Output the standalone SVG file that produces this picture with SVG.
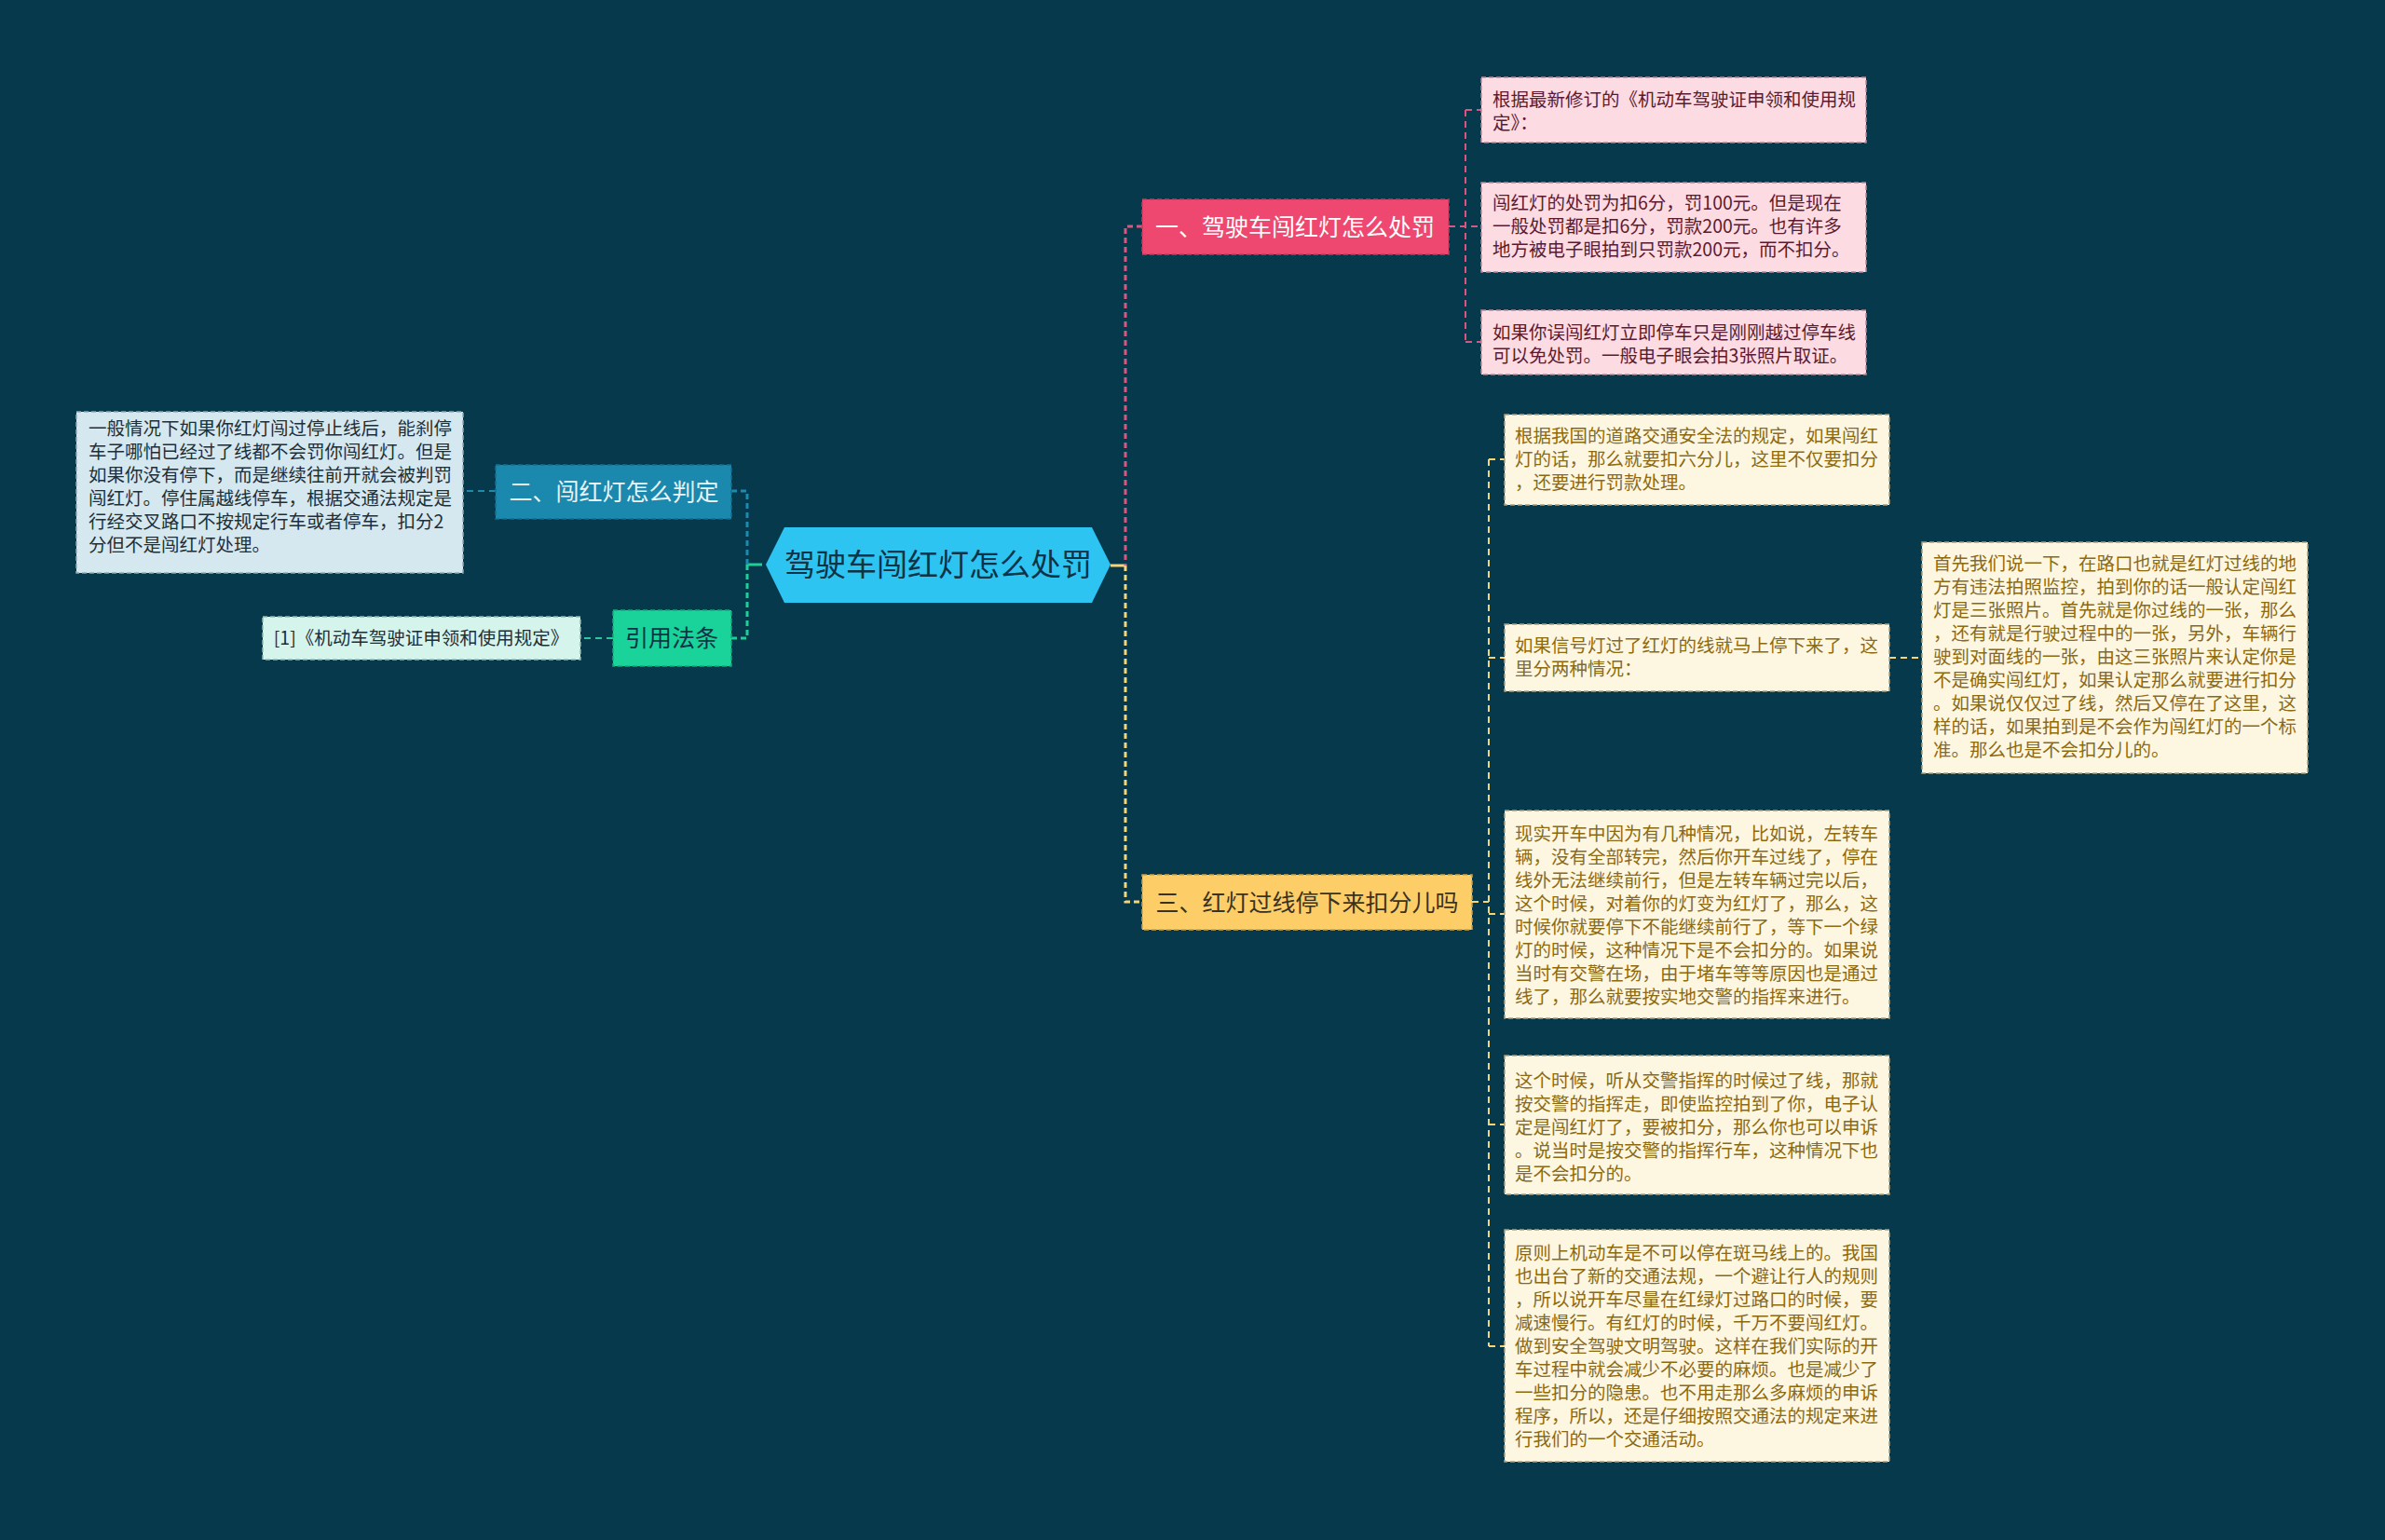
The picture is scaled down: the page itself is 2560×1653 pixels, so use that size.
<svg xmlns="http://www.w3.org/2000/svg" width="2560" height="1653" viewBox="0 0 2560 1653">
<style>
text{font-family:"Noto Sans CJK SC","Noto Sans",sans-serif}
.lf{font-size:19.5px}
.pk{fill:#fcdbe2;stroke:#b9889a;stroke-width:1.5;stroke-dasharray:5 3}
.pkt{fill:#5c1a30}
.yl{fill:#fdf6e1;stroke:#a9a07f;stroke-width:1.5;stroke-dasharray:5 3}
.ylt{fill:#8c6a12}
.br{font-size:25px;text-anchor:middle}
.cn{fill:none;stroke-width:2;stroke-dasharray:7 5}
.tr{fill:none;stroke-width:3;stroke-dasharray:6 4}
</style>
<rect width="2560" height="1653" fill="#07394d"/>
<g id="connectors">
<line x1="1192" y1="607" x2="1208" y2="607" stroke="#f5d57a" stroke-width="3"/>
<path class="tr" d="M1226,243 H1208 V607" stroke="#d9577f"/>
<path class="tr" d="M1208,607 V968 H1226" stroke="#f5d57a"/>
<line x1="802" y1="606" x2="818" y2="606" stroke="#1fcf98" stroke-width="3"/>
<path class="tr" d="M785,527 H802 V606" stroke="#1d8ab0"/>
<path class="tr" d="M802,606 V685 H785" stroke="#1fcf98"/>
<path class="cn" d="M532,527 H497" stroke="#1d8ab0"/>
<path class="cn" d="M658,685 H623" stroke="#1fcf98"/>
<path class="cn" d="M1555,243 H1590 M1573,118 V367 M1573,118 H1590 M1573,367 H1590" stroke="#d9577f"/>
<path class="cn" d="M1580,968 H1598 M1598,493 V1445 M1598,493 H1615 M1598,706 H1615 M1598,981 H1615 M1598,1207 H1615 M1598,1445 H1615 M2028,706 H2063" stroke="#f5d57a"/>
</g>
<g id="root">
<polygon points="822,606 842,566 1172,566 1192,606 1172,647 842,647" fill="#2ec4f2"/>
<text x="1007" y="618" font-size="33" text-anchor="middle" fill="#0c3346">驾驶车闯红灯怎么处罚</text>
</g>
<g id="b1">
<rect x="1226" y="214" width="329" height="59" fill="#ee4870" stroke="#c73a5e" stroke-width="1.5" stroke-dasharray="5 3"/>
<text class="br" x="1390" y="253" fill="#ffffff">一、驾驶车闯红灯怎么处罚</text>
</g>
<g id="b2">
<rect x="532" y="499" width="253" height="58" fill="#1b88ad" stroke="#166f8e" stroke-width="1.5" stroke-dasharray="5 3"/>
<text class="br" x="659" y="537" fill="#e8f4f8">二、闯红灯怎么判定</text>
</g>
<g id="b3">
<rect x="1226" y="939" width="354" height="59" fill="#fdce68" stroke="#c9a350" stroke-width="1.5" stroke-dasharray="5 3"/>
<text class="br" x="1403" y="978" fill="#3a3220">三、红灯过线停下来扣分儿吗</text>
</g>
<g id="b4">
<rect x="658" y="655" width="127" height="60" fill="#19d39a" stroke="#14a87b" stroke-width="1.5" stroke-dasharray="5 3"/>
<text class="br" x="721" y="694" fill="#0c3346">引用法条</text>
</g>
<g id="l1">
<rect x="82" y="442" width="415" height="173" fill="#d5e8ef" stroke="#8fa9b4" stroke-width="1.5" stroke-dasharray="5 3"/>
<text class="lf" fill="#1f2f38"><tspan x="95" y="467">一般情况下如果你红灯闯过停止线后，能刹停</tspan><tspan x="95" y="492">车子哪怕已经过了线都不会罚你闯红灯。但是</tspan><tspan x="95" y="517">如果你没有停下，而是继续往前开就会被判罚</tspan><tspan x="95" y="542">闯红灯。停住属越线停车，根据交通法规定是</tspan><tspan x="95" y="567">行经交叉路口不按规定行车或者停车，扣分2</tspan><tspan x="95" y="592">分但不是闯红灯处理。</tspan></text>
</g>
<g id="l2">
<rect x="282" y="662" width="341" height="46" fill="#d5f5ec" stroke="#8fb9ac" stroke-width="1.5" stroke-dasharray="5 3"/>
<text x="452" y="692" font-size="19.5" text-anchor="middle" fill="#1f2f38">[1]《机动车驾驶证申领和使用规定》</text>
</g>
<g id="p1">
<rect class="pk" x="1590" y="83" width="413" height="70"/>
<text class="lf pkt"><tspan x="1602" y="114">根据最新修订的《机动车驾驶证申领和使用规</tspan><tspan x="1602" y="139">定》：</tspan></text>
</g>
<g id="p2">
<rect class="pk" x="1590" y="196" width="413" height="96"/>
<text class="lf pkt"><tspan x="1602" y="225">闯红灯的处罚为扣6分，罚100元。但是现在</tspan><tspan x="1602" y="250">一般处罚都是扣6分，罚款200元。也有许多</tspan><tspan x="1602" y="275">地方被电子眼拍到只罚款200元，而不扣分。</tspan></text>
</g>
<g id="p3">
<rect class="pk" x="1590" y="333" width="413" height="69"/>
<text class="lf pkt"><tspan x="1602" y="364">如果你误闯红灯立即停车只是刚刚越过停车线</tspan><tspan x="1602" y="389">可以免处罚。一般电子眼会拍3张照片取证。</tspan></text>
</g>
<g id="y1">
<rect class="yl" x="1615" y="445" width="413" height="97"/>
<text class="lf ylt"><tspan x="1626" y="475">根据我国的道路交通安全法的规定，如果闯红</tspan><tspan x="1626" y="500">灯的话，那么就要扣六分儿，这里不仅要扣分</tspan><tspan x="1626" y="525">，还要进行罚款处理。</tspan></text>
</g>
<g id="y2">
<rect class="yl" x="1615" y="670" width="413" height="72"/>
<text class="lf ylt"><tspan x="1626" y="700">如果信号灯过了红灯的线就马上停下来了，这</tspan><tspan x="1626" y="725">里分两种情况：</tspan></text>
</g>
<g id="y3">
<rect class="yl" x="2063" y="582" width="414" height="248"/>
<text class="lf ylt"><tspan x="2075" y="612">首先我们说一下，在路口也就是红灯过线的地</tspan><tspan x="2075" y="637">方有违法拍照监控，拍到你的话一般认定闯红</tspan><tspan x="2075" y="662">灯是三张照片。首先就是你过线的一张，那么</tspan><tspan x="2075" y="687">，还有就是行驶过程中的一张，另外，车辆行</tspan><tspan x="2075" y="712">驶到对面线的一张，由这三张照片来认定你是</tspan><tspan x="2075" y="737">不是确实闯红灯，如果认定那么就要进行扣分</tspan><tspan x="2075" y="762">。如果说仅仅过了线，然后又停在了这里，这</tspan><tspan x="2075" y="787">样的话，如果拍到是不会作为闯红灯的一个标</tspan><tspan x="2075" y="812">准。那么也是不会扣分儿的。</tspan></text>
</g>
<g id="y4">
<rect class="yl" x="1615" y="870" width="413" height="223"/>
<text class="lf ylt"><tspan x="1626" y="902">现实开车中因为有几种情况，比如说，左转车</tspan><tspan x="1626" y="927">辆，没有全部转完，然后你开车过线了，停在</tspan><tspan x="1626" y="952">线外无法继续前行，但是左转车辆过完以后，</tspan><tspan x="1626" y="977">这个时候，对着你的灯变为红灯了，那么，这</tspan><tspan x="1626" y="1002">时候你就要停下不能继续前行了，等下一个绿</tspan><tspan x="1626" y="1027">灯的时候，这种情况下是不会扣分的。如果说</tspan><tspan x="1626" y="1052">当时有交警在场，由于堵车等等原因也是通过</tspan><tspan x="1626" y="1077">线了，那么就要按实地交警的指挥来进行。</tspan></text>
</g>
<g id="y5">
<rect class="yl" x="1615" y="1133" width="413" height="149"/>
<text class="lf ylt"><tspan x="1626" y="1167">这个时候，听从交警指挥的时候过了线，那就</tspan><tspan x="1626" y="1192">按交警的指挥走，即使监控拍到了你，电子认</tspan><tspan x="1626" y="1217">定是闯红灯了，要被扣分，那么你也可以申诉</tspan><tspan x="1626" y="1242">。说当时是按交警的指挥行车，这种情况下也</tspan><tspan x="1626" y="1267">是不会扣分的。</tspan></text>
</g>
<g id="y6">
<rect class="yl" x="1615" y="1320" width="413" height="249"/>
<text class="lf ylt"><tspan x="1626" y="1352">原则上机动车是不可以停在斑马线上的。我国</tspan><tspan x="1626" y="1377">也出台了新的交通法规，一个避让行人的规则</tspan><tspan x="1626" y="1402">，所以说开车尽量在红绿灯过路口的时候，要</tspan><tspan x="1626" y="1427">减速慢行。有红灯的时候，千万不要闯红灯。</tspan><tspan x="1626" y="1452">做到安全驾驶文明驾驶。这样在我们实际的开</tspan><tspan x="1626" y="1477">车过程中就会减少不必要的麻烦。也是减少了</tspan><tspan x="1626" y="1502">一些扣分的隐患。也不用走那么多麻烦的申诉</tspan><tspan x="1626" y="1527">程序，所以，还是仔细按照交通法的规定来进</tspan><tspan x="1626" y="1552">行我们的一个交通活动。</tspan></text>
</g>
</svg>
